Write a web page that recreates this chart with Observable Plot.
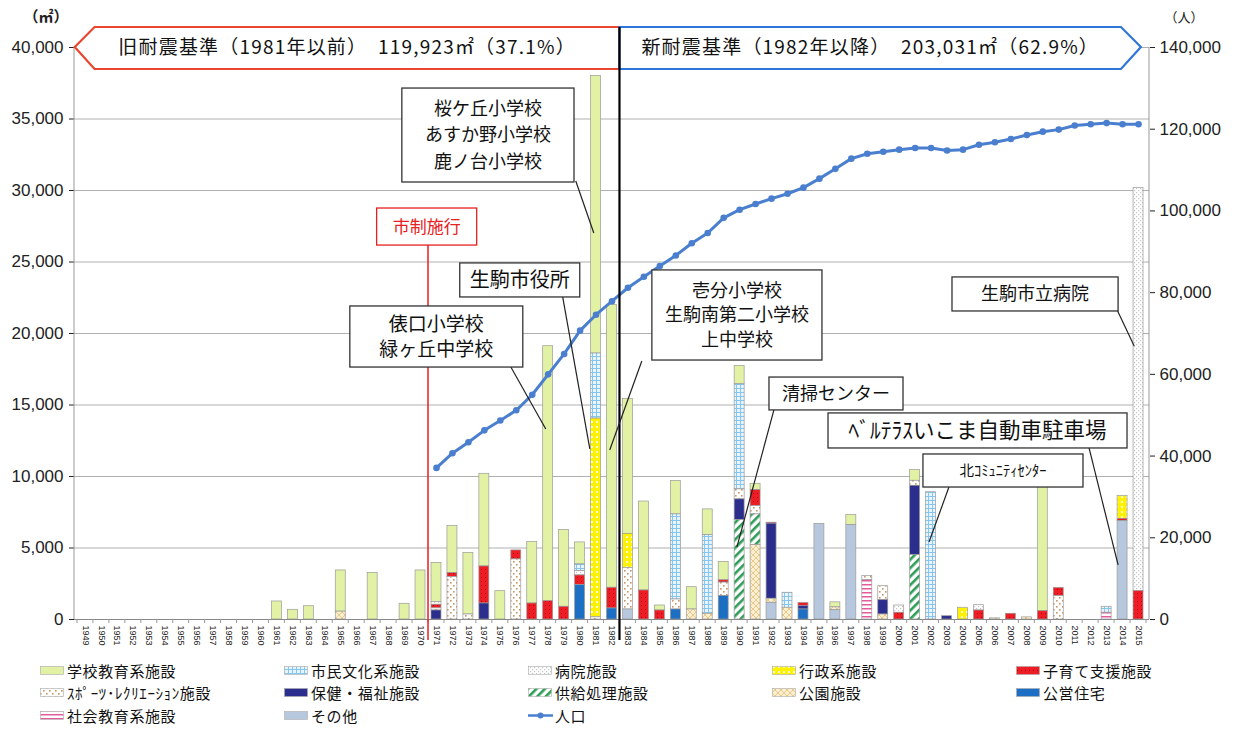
<!DOCTYPE html>
<html><head><meta charset="utf-8">
<script src="https://cdn.jsdelivr.net/npm/d3@7"></script>
<script src="https://cdn.jsdelivr.net/npm/@observablehq/plot@0.6"></script>
<style>
body{margin:0;background:#fff;font-family:"Noto Sans CJK JP",sans-serif;}
#wrap{position:relative;width:1235px;height:729px;overflow:hidden;}
#legend{position:absolute;left:40px;top:659px;display:grid;grid-template-columns:repeat(5,244px);grid-auto-rows:22.5px;font-size:15px;letter-spacing:0.6px;color:#111;}
.item{display:flex;align-items:center;gap:2px;white-space:nowrap;}
</style></head><body>
<svg width="0" height="0" style="position:absolute"><defs>
<pattern id="pSchool" width="4" height="4" patternUnits="userSpaceOnUse"><rect width="4" height="4" fill="#e2f2a4"/></pattern>
<pattern id="pCulture" width="4" height="4" patternUnits="userSpaceOnUse"><rect width="4" height="4" fill="#e8f5fd"/><path d="M0,0.5H4M0.5,0V4" stroke="#86c6ee" stroke-width="1"/></pattern>
<pattern id="pHospital" width="4" height="4" patternUnits="userSpaceOnUse"><rect width="4" height="4" fill="#fff"/><rect x="0" y="0" width="1.2" height="1.2" fill="#c4c4c4"/><rect x="2" y="2" width="1.2" height="1.2" fill="#c4c4c4"/></pattern>
<pattern id="pAdmin" width="5" height="5" patternUnits="userSpaceOnUse"><rect width="5" height="5" fill="#fff200"/><rect x="1" y="1" width="2" height="2" fill="#fffbd0"/></pattern>
<pattern id="pChild" width="4" height="4" patternUnits="userSpaceOnUse"><rect width="4" height="4" fill="#ee1c25"/><rect x="1" y="1" width="1" height="1" fill="#b0000a"/></pattern>
<pattern id="pSport" width="6" height="6" patternUnits="userSpaceOnUse"><rect width="6" height="6" fill="#fff"/><rect x="0" y="0" width="1.6" height="1.6" fill="#c99563"/><rect x="3" y="3" width="1.6" height="1.6" fill="#c99563"/></pattern>
<pattern id="pSupply" width="6" height="6" patternUnits="userSpaceOnUse" patternTransform="rotate(45)"><rect width="6" height="6" fill="#fff"/><rect width="2.6" height="6" fill="#2f9d58"/></pattern>
<pattern id="pPark" width="6" height="6" patternUnits="userSpaceOnUse"><rect width="6" height="6" fill="#fbefd0"/><path d="M0,0L6,6M6,0L0,6" stroke="#e2bf7e" stroke-width="0.8"/></pattern>
<pattern id="pSocial" width="4" height="4" patternUnits="userSpaceOnUse"><rect width="4" height="4" fill="#fff"/><rect y="0" width="4" height="1.5" fill="#e65a9c"/></pattern>
</defs></svg>
<div id="wrap"><div id="chart"></div><div id="legend"></div></div>
<script>
// ---------- DATA ----------
const years = [1949,1950,1951,1952,1953,1954,1955,1956,1957,1958,1959,1960,1961,1962,1963,1964,1965,1966,1967,1968,1969,1970,1971,1972,1973,1974,1975,1976,1977,1978,1979,1980,1981,1982,1983,1984,1985,1986,1987,1988,1989,1990,1991,1992,1993,1994,1995,1996,1997,1998,1999,2000,2001,2002,2003,2004,2005,2006,2007,2008,2009,2010,2011,2012,2013,2014,2015];
const categories = ["学校教育系施設","市民文化系施設","病院施設","行政系施設","子育て支援施設","ｽﾎﾟｰﾂ･ﾚｸﾘｴｰｼｮﾝ施設","保健・福祉施設","供給処理施設","公園施設","公営住宅","社会教育系施設","その他"];
// [year, floor area m²]
const school = [[1961,1260],[1962,680],[1963,930],[1965,2880],[1967,3260],[1969,1100],[1970,3430],[1971,2730],[1972,3300],[1973,4310],[1974,6480],[1975,1980],[1977,4290],[1978,17830],[1979,5380],[1980,1540],[1981,19400],[1982,19780],[1983,9440],[1984,6220],[1985,350],[1986,2330],[1987,1560],[1988,1800],[1989,1280],[1990,1280],[1991,440],[1996,350],[1997,700],[2001,750],[2009,8900]];
const culture = [[1980,470],[1981,4550],[1986,5950],[1988,5500],[1990,7350],[1993,1050],[2002,8900],[2013,420]];
const hospital = [[1971,200],[1980,300],[2000,510],[2005,370],[2015,28200]];
const admin = [[1981,13900],[1983,2380],[2004,820],[2014,1590]];
const child = [[1971,250],[1972,280],[1974,2590],[1976,630],[1977,1120],[1978,1280],[1979,890],[1980,680],[1982,1450],[1984,2030],[1985,630],[1989,160],[1991,1120],[1992,70],[1994,230],[2000,470],[2005,630],[2007,400],[2009,580],[2010,580],[2014,160],[2015,1980]];
const sport = [[1971,150],[1972,2960],[1973,350],[1976,4200],[1981,150],[1983,2910],[1986,700],[1989,930],[1990,700],[1991,580],[1998,300],[1999,980],[2001,350],[2010,1630]];
const welfare = [[1971,630],[1974,1120],[1990,1450],[1992,5250],[1994,230],[1999,1000],[2001,4850],[2003,230]];
const supply = [[1990,6950],[1991,2150],[2001,4500]];
const park = [[1965,550],[1987,700],[1988,400],[1991,5200],[1992,280],[1993,820],[1996,200],[1999,350],[2006,80],[2008,150]];
const housing = [[1980,2400],[1982,770],[1986,700],[1989,1650],[1994,700]];
const social = [[1998,2750],[2013,470]];
const other = [[1983,700],[1992,1170],[1995,6690],[1996,650],[1997,6600],[2014,6880]];
const popYears = [1971,1972,1973,1974,1975,1976,1977,1978,1979,1980,1981,1982,1983,1984,1985,1986,1987,1988,1989,1990,1991,1992,1993,1994,1995,1996,1997,1998,1999,2000,2001,2002,2003,2004,2005,2006,2007,2008,2009,2010,2011,2012,2013,2014,2015];
const population = [37100,40700,43400,46300,48700,51200,55000,60000,65000,70700,74600,77900,81200,83900,86500,89100,92100,94600,98300,100300,101700,103000,104200,105700,107900,110300,112800,114000,114500,115000,115400,115400,114800,115000,116200,116800,117600,118600,119400,119900,120900,121200,121500,121200,121200];
const leftTicks = [0,5000,10000,15000,20000,25000,30000,35000,40000];
const rightTicks = [0,20000,40000,60000,80000,100000,120000,140000];
const popLabel = "人口";

// ---------- STYLES ----------
const seriesData = [school,culture,hospital,admin,child,sport,welfare,supply,park,housing,social,other];
const fillStyles = ["url(#pSchool)","url(#pCulture)","url(#pHospital)","url(#pAdmin)","url(#pChild)","url(#pSport)","#2b2e8c","url(#pSupply)","url(#pPark)","#1c6fc2","url(#pSocial)","#b7c8de"];
const fillOf = Object.fromEntries(categories.map((c,i)=>[c,fillStyles[i]]));
const stackOrder = categories.slice().reverse();
const ratio = 140000/40000;
const popColor = "#4a7fcf";

const rows = [];
categories.forEach((cat,i)=>seriesData[i].forEach(([year,value])=>rows.push({year,cat,value})));
const popRows = popYears.map((year,i)=>({year,pop:population[i]}));

const chart = Plot.plot({
  width:1235, height:655, marginLeft:74, marginRight:86, marginTop:47, marginBottom:36,
  style:{fontFamily:'"Liberation Sans","Noto Sans CJK JP",sans-serif', fontSize:"17px", color:"#222", background:"transparent"},
  x:{type:"band", domain:years, padding:0.375},
  y:{domain:[0,40000]},
  color:{type:"identity"},
  marks:[
    Plot.gridY(leftTicks.filter(d=>d>0),{stroke:"#b0b0b0",strokeOpacity:1}),
    Plot.barY(rows, Plot.stackY({x:"year", y:"value", z:"cat", order:stackOrder, fill:d=>fillOf[d.cat], stroke:"#9a9a9a", strokeWidth:0.7})),
    Plot.ruleY([0],{stroke:"#888"}),
    Plot.axisX({tickRotate:90, tickSize:0, tickPadding:6, fontSize:9, tickFormat:d=>String(d), label:null}),
    Plot.axisY({ticks:leftTicks, tickFormat:d3.format(","), tickSize:5, tickPadding:6, label:null, fontSize:17}),
    Plot.axisY({anchor:"right", ticks:rightTicks.map(d=>d/ratio), tickFormat:d=>d3.format(",")(Math.round(d*ratio)), tickSize:5, tickPadding:5, label:null, fontSize:17}),
    Plot.line(popRows,{x:"year", y:d=>d.pop/ratio, stroke:popColor, strokeWidth:3}),
    Plot.dot(popRows,{x:"year", y:d=>d.pop/ratio, r:3.3, fill:popColor})
  ]
});
document.getElementById("chart").appendChild(chart);

// ---------- ANNOTATIONS (positioned through Plot scales) ----------
const xs = chart.scale("x"), ys = chart.scale("y");
const x0 = xs.apply(years[0]) + xs.bandwidth/2;
const xc = yf => x0 + (yf - years[0]) * xs.step;
const yv = v => ys.apply(v);
const svg = d3.select(chart);
const g = svg.append("g");
const cjk = '"Noto Sans CJK JP",sans-serif';

// axis side lines + x tick marks between bands
const [rx0, rx1] = xs.range;
g.append("line").attr("x1",rx0).attr("x2",rx0).attr("y1",yv(0)).attr("y2",yv(40000)).attr("stroke","#999");
g.append("line").attr("x1",rx1).attr("x2",rx1).attr("y1",yv(0)).attr("y2",yv(40000)).attr("stroke","#999");
for (let i=0;i<=years.length;i++){
  const tx = xc(years[0]-0.5+i);
  g.append("line").attr("x1",tx).attr("x2",tx).attr("y1",yv(0)).attr("y2",yv(0)+4).attr("stroke","#999");
}
// unit labels
g.append("text").attr("x",46).attr("y",22).attr("text-anchor","middle").attr("font-size",15).attr("font-family",cjk).attr("font-weight","bold").attr("fill","#222").text("（㎡）");
g.append("text").attr("x",1184).attr("y",22).attr("text-anchor","middle").attr("font-size",13).attr("font-family",cjk).attr("fill","#222").text("（人）");

// banners
const bTop = yv(41400), bBot = yv(38460), bMid = yv(40000), split = xc(1982.5);
g.append("polygon").attr("points",[[split,bTop],[xc(1949.6),bTop],[xc(1948.36),bMid],[xc(1949.6),bBot],[split,bBot]].join(" "))
  .attr("fill","#fff").attr("stroke","#e8462e").attr("stroke-width",2.2);
g.append("polygon").attr("points",[[split,bTop],[xc(2013.93),bTop],[xc(2015.18),bMid],[xc(2013.93),bBot],[split,bBot]].join(" "))
  .attr("fill","#fff").attr("stroke","#2f76d8").attr("stroke-width",2.2);
g.append("text").attr("x",(xc(1948.36)+split)/2).attr("y",bMid).attr("dy","0.36em").attr("text-anchor","middle").attr("font-size",19).attr("letter-spacing","1.2px").attr("font-family",cjk).attr("fill","#111").text("旧耐震基準（1981年以前）　119,923㎡（37.1%）");
g.append("text").attr("x",(split+xc(2013.93))/2).attr("y",bMid).attr("dy","0.36em").attr("text-anchor","middle").attr("font-size",19).attr("letter-spacing","1.2px").attr("font-family",cjk).attr("fill","#111").text("新耐震基準（1982年以降）　203,031㎡（62.9%）");

// vertical markers
g.append("line").attr("x1",xc(1970.5)).attr("x2",xc(1970.5)).attr("y1",yv(26150)).attr("y2",yv(-1470)).attr("stroke","#e82020").attr("stroke-width",1.5);
g.append("line").attr("x1",split).attr("x2",split).attr("y1",bTop).attr("y2",yv(-1470)).attr("stroke","#000").attr("stroke-width",2.2);

// callouts: [lines, left yr, right yr, top value, bottom value, fontSize, lineHeight, leader [yr,v,yr,v], color]
const callouts = [
  [["桜ケ丘小学校","あすか野小学校","鹿ノ台小学校"],1968.86,1979.65,37130,30560,18,26.5,[1979.76,30630,1980.89,26990],"#333"],
  [["生駒市役所"],1972.49,1980.01,24900,22520,20,0,[1978.94,22520,1980.64,11890],"#333"],
  [["俵口小学校","緑ヶ丘中学校"],1965.6,1976.44,21890,17620,19,25.5,[1975.69,17620,1977.88,13290],"#333"],
  [["壱分小学校","生駒南第二小学校","上中学校"],1984.53,1995.19,24410,18110,18,24.5,[1983.9,18040,1981.89,11820],"#333"],
  [["清掃センター"],1991.87,2000.27,16920,14620,18,0,[1992.18,14620,1989.86,5030],"#333"],
  [["ﾍﾞﾙﾃﾗｽいこま自動車駐車場"],1995.57,2014.31,14410,11960,21.5,0,[2011.93,11960,2013.75,3780],"#333"],
  [["北ｺﾐｭﾆﾃｨｾﾝﾀｰ"],2001.52,2011.55,11540,9230,14.5,0,[2003.15,9230,2001.9,5380],"#333"],
  [["生駒市立病院"],2003.34,2013.75,23920,21540,18,0,[2013.69,21610,2014.76,19090],"#333"],
  [["市制施行"],1967.28,1973.55,28740,26150,17,0,null,"#e82020"]
];
callouts.forEach(([lines,l,r,t,b,fs,lh,lead,col])=>{
  if (lead) g.append("line").attr("x1",xc(lead[0])).attr("y1",yv(lead[1])).attr("x2",xc(lead[2])).attr("y2",yv(lead[3])).attr("stroke","#222").attr("stroke-width",1.2);
});
callouts.forEach(([lines,l,r,t,b,fs,lh,lead,col])=>{
  const X0=xc(l), X1=xc(r), Y0=yv(t), Y1=yv(b);
  const red = col !== "#333";
  g.append("rect").attr("x",X0).attr("y",Y0).attr("width",X1-X0).attr("height",Y1-Y0).attr("fill","#fff").attr("stroke",red?col:"#333").attr("stroke-width",1.3);
  const cy = (Y0+Y1)/2;
  lines.forEach((s,i)=>{
    g.append("text").attr("x",(X0+X1)/2).attr("y",cy + (i-(lines.length-1)/2)*lh).attr("dy","0.36em").attr("text-anchor","middle")
      .attr("font-size",fs).attr("font-family",cjk).attr("fill",red?col:"#111").text(s);
  });
});

// ---------- LEGEND ----------
const legend = d3.select("#legend");
categories.forEach((c,i)=>{
  const it = legend.append("div").attr("class","item");
  const s = it.append("svg").attr("width",25).attr("height",11);
  s.append("rect").attr("x",0.5).attr("y",1.5).attr("width",23).attr("height",8).attr("fill",fillStyles[i]).attr("stroke","#aaa").attr("stroke-width",0.6);
  it.append("span").text(c);
});
const pit = legend.append("div").attr("class","item");
const ps = pit.append("svg").attr("width",25).attr("height",11);
ps.append("line").attr("x1",0).attr("x2",25).attr("y1",5.5).attr("y2",5.5).attr("stroke",popColor).attr("stroke-width",2.5);
ps.append("circle").attr("cx",12.5).attr("cy",5.5).attr("r",3).attr("fill",popColor);
pit.append("span").text(popLabel);
</script>
</body></html>
